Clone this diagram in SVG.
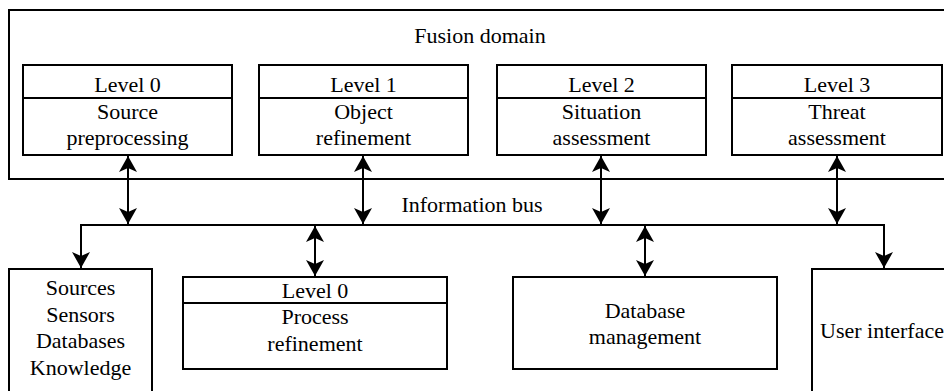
<svg xmlns="http://www.w3.org/2000/svg" width="944" height="391" viewBox="0 0 944 391">
<style>
.box{fill:#fff;stroke:#000;stroke-width:2}
.ln{fill:none;stroke:#000;stroke-width:2}
.t{font-family:'Liberation Serif','Times New Roman',serif;font-size:22px;fill:#000;text-anchor:middle}
.s{text-anchor:start}
</style>
<defs>
<marker id="ah" viewBox="0 -10 17 20" refX="16" refY="0" markerWidth="17" markerHeight="20" markerUnits="userSpaceOnUse" orient="auto-start-reverse">
<path d="M16,0 L0,-9 L4,0 L0,9 Z" fill="#000"/>
</marker>
</defs>
<g id="fusion-domain">
<rect class="box" x="9" y="10" width="945" height="169"/>
<text class="t" x="480" y="43">Fusion domain</text>
</g>
<g id="level0">
<rect class="box" x="23" y="65" width="209" height="90"/>
<line class="ln" x1="23" y1="98" x2="232" y2="98"/>
<text class="t" x="127.5" y="92">Level 0</text>
<text class="t" x="127.5" y="119">Source</text>
<text class="t" x="127.5" y="145">preprocessing</text>
</g>
<g id="level1">
<rect class="box" x="259" y="65" width="209" height="90"/>
<line class="ln" x1="259" y1="98" x2="468" y2="98"/>
<text class="t" x="363.5" y="92">Level 1</text>
<text class="t" x="363.5" y="119">Object</text>
<text class="t" x="363.5" y="145">refinement</text>
</g>
<g id="level2">
<rect class="box" x="497" y="65" width="209" height="90"/>
<line class="ln" x1="497" y1="98" x2="706" y2="98"/>
<text class="t" x="601.5" y="92">Level 2</text>
<text class="t" x="601.5" y="119">Situation</text>
<text class="t" x="601.5" y="145">assessment</text>
</g>
<g id="level3">
<rect class="box" x="732" y="65" width="210" height="90"/>
<line class="ln" x1="732" y1="98" x2="942" y2="98"/>
<text class="t" x="837" y="92">Level 3</text>
<text class="t" x="837" y="119">Threat</text>
<text class="t" x="837" y="145">assessment</text>
</g>
<g id="sources">
<rect class="box" x="9" y="269" width="143" height="140"/>
<text class="t" x="80.5" y="295">Sources</text>
<text class="t" x="80.5" y="322">Sensors</text>
<text class="t" x="80.5" y="348">Databases</text>
<text class="t" x="80.5" y="375">Knowledge</text>
</g>
<g id="process-refinement">
<rect class="box" x="183" y="277" width="264" height="92"/>
<line class="ln" x1="183" y1="303" x2="447" y2="303"/>
<text class="t" x="315" y="298">Level 0</text>
<text class="t" x="315" y="324">Process</text>
<text class="t" x="315" y="351">refinement</text>
</g>
<g id="database-management">
<rect class="box" x="513" y="277" width="264" height="92"/>
<text class="t" x="645" y="318">Database</text>
<text class="t" x="645" y="344">management</text>
</g>
<g id="user-interface">
<rect class="box" x="812" y="269" width="150" height="140"/>
<text class="t s" x="820" y="338">User interface</text>
</g>
<g id="connectors">
<text class="t" x="472" y="212">Information bus</text>
<polyline class="ln" points="81,268 81,225 884,225 884,268" marker-start="url(#ah)" marker-end="url(#ah)"/>
<line class="ln" x1="128" y1="156" x2="128" y2="224" marker-start="url(#ah)" marker-end="url(#ah)"/>
<line class="ln" x1="363" y1="156" x2="363" y2="224" marker-start="url(#ah)" marker-end="url(#ah)"/>
<line class="ln" x1="601" y1="156" x2="601" y2="224" marker-start="url(#ah)" marker-end="url(#ah)"/>
<line class="ln" x1="837" y1="156" x2="837" y2="224" marker-start="url(#ah)" marker-end="url(#ah)"/>
<line class="ln" x1="315" y1="226" x2="315" y2="276" marker-start="url(#ah)" marker-end="url(#ah)"/>
<line class="ln" x1="645" y1="226" x2="645" y2="276" marker-start="url(#ah)" marker-end="url(#ah)"/>
</g>
</svg>
